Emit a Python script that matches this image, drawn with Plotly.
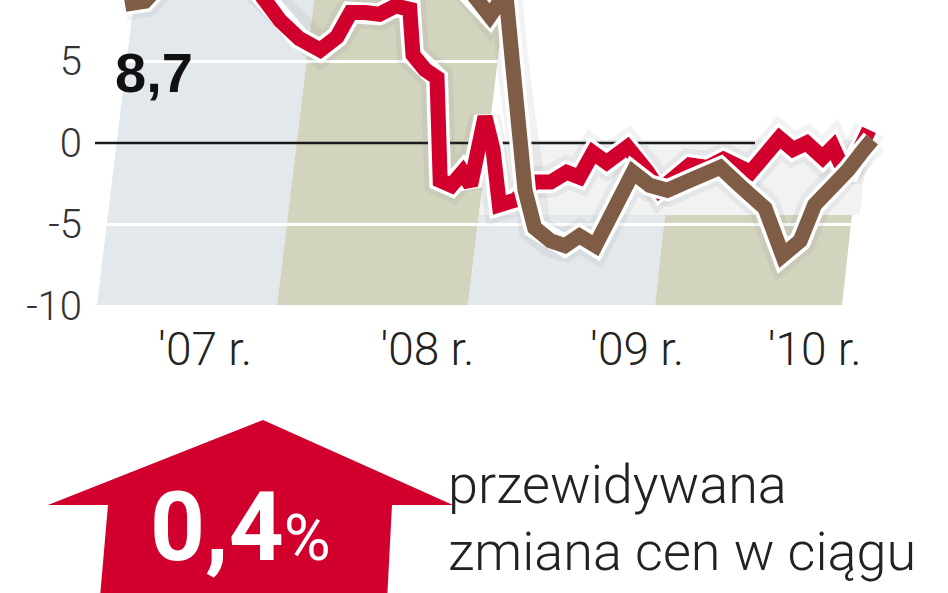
import plotly.graph_objects as go

# ---------------- data ----------------
# x: month index since the start of the series
red_x = [0, 2.2, 4.7, 6.9, 8.1, 8.75, 9.7, 10.9, 12.2, 13.25, 14.1, 15.0, 15.9, 16.9, 17.8,
         18.0, 18.75, 19.5, 19.7, 20.4, 21.1, 21.6, 22.5, 23.0, 23.4, 24.4, 25.6, 26.6,
         27.6, 28.4, 29.25, 30.1, 31.4, 32.6, 33.4, 35.3, 36.4, 37.4, 39.1, 40.9, 41.75,
         42.6, 43.6, 44.25, 45.1, 46.5]
red_y = [10.2, 11.0, 11.5, 10.8, 9.6, 8.8, 7.5, 6.4, 5.7, 6.5, 8.0, 8.0, 7.9, 8.4, 8.2,
         5.4, 4.5, 4.0, -2.3, -2.6, -1.8, -2.6, 1.6, -0.4, -3.8, -3.5, -2.4, -2.4,
         -1.8, -2.1, -0.6, -1.2, -0.25, -1.7, -2.9, -1.35, -1.5, -1.0, -1.8, 0.3, -0.4,
         0.0, -0.9, -0.25, -2.1, 0.8]

brown_x = [0, 1.25, 2.2, 4.7, 7.8, 10.9, 14.1, 17.2, 19.7, 21.6, 22.8, 23.8, 24.2, 24.6,
           25.0, 25.6, 26.6, 27.5, 28.4, 29.4, 30.6, 31.75, 32.8, 33.9, 35.3, 37.2, 38.4,
           40.0, 41.1, 42.2, 43.1, 44.1, 45.2, 46.1, 46.7]
brown_y = [8.5, 8.7, 9.7, 11.0, 12.5, 13.0, 14.0, 13.0, 11.0, 9.3, 7.8, 9.2, 5.1, 0.8,
           -2.9, -5.2, -6.0, -6.3, -5.7, -6.3, -4.0, -1.8, -2.6, -2.9, -2.3, -1.5, -2.6,
           -4.0, -6.9, -6.0, -3.8, -2.9, -1.65, -0.5, 0.2]

y_tickvals = [5, 0, -5, -10]
y_ticktext = ["5", "0", "-5", "-10"]
x_tickvals = [5.0, 18.9, 32.0, 43.1]
x_ticktext = ["'07 r.", "'08 r.", "'09 r.", "'10 r."]

label_value = "8,7"
forecast_value = "0,4"
forecast_text = ["przewidywana", "zmiana cen w ciągu"]

# ---------------- styling ----------------
W, H = 948, 593
L, R, T, B = 95, 48, 0, 283
PW, PH = W - L - R, H - T - B

RED = "#D2002D"
BROWN = "#7F5C46"
LIGHT = "#E2E8EB"
OLIVE = "#D3D4BE"


def px(x):
    return (x - L) / PW


def py(y):
    return (T + PH - y) / PH


def poly(points):
    return "M " + " L ".join(f"{px(a):.5f},{py(b):.5f}" for a, b in points) + " Z"


fig = go.Figure()

for xs, ys, col in [(red_x, red_y, RED), (brown_x, brown_y, BROWN)]:
    fig.add_trace(go.Scatter(x=xs, y=ys, mode="lines", hoverinfo="skip",
                             line=dict(color="rgba(120,130,135,0.10)", width=32)))
for xs, ys, col in [(red_x, red_y, RED), (brown_x, brown_y, BROWN)]:
    fig.add_trace(go.Scatter(x=xs, y=ys, mode="lines", hoverinfo="skip",
                             line=dict(color="white", width=22)))
    fig.add_trace(go.Scatter(x=xs, y=ys, mode="lines", hoverinfo="skip",
                             line=dict(color=col, width=15)))

shapes = []
# background panels (perspective columns)
shapes.append(dict(type="path", path=poly([(97, 305), (277, 305), (314, 0), (134, 0)]),
                   xref="paper", yref="paper", fillcolor=LIGHT, line_width=0, layer="below"))
shapes.append(dict(type="path", path=poly([(277, 305), (468, 305), (505, 0), (314, 0)]),
                   xref="paper", yref="paper", fillcolor=OLIVE, line_width=0, layer="below"))
shapes.append(dict(type="path", path=poly([(479, 215), (860, 215), (868, 140), (489, 140)]),
                   xref="paper", yref="paper", fillcolor="#F1F2F2", line_width=0, layer="below"))
shapes.append(dict(type="path", path=poly([(468, 305), (655, 305), (665, 215), (479, 215)]),
                   xref="paper", yref="paper", fillcolor=LIGHT, line_width=0, layer="below"))
shapes.append(dict(type="path", path=poly([(655, 305), (842, 305), (852, 215), (665, 215)]),
                   xref="paper", yref="paper", fillcolor=OLIVE, line_width=0, layer="below"))
# white grid lines
shapes.append(dict(type="line", xref="paper", yref="y", x0=px(120), x1=px(500), y0=5, y1=5,
                   line=dict(color="white", width=3), layer="below"))
shapes.append(dict(type="line", xref="paper", yref="y", x0=px(105), x1=px(852), y0=-5, y1=-5,
                   line=dict(color="white", width=3), layer="below"))
# zero line
shapes.append(dict(type="line", xref="paper", yref="y", x0=px(95), x1=px(755), y0=0, y1=0,
                   line=dict(color="#1a1a1a", width=2.5), layer="below"))
# red arrow
shapes.append(dict(type="path", xref="paper", yref="paper",
                   path=poly([(263, 420), (453, 505), (392, 505), (386, 620), (98, 620),
                              (108, 505), (48, 505)]),
                   fillcolor=RED, line_width=0, layer="above"))

annotations = [
    dict(text=label_value, xref="paper", yref="paper", x=px(113), y=py(72), xanchor="left",
         yanchor="middle", showarrow=False,
         font=dict(family="Liberation Sans, Arial", size=56, color="#111", weight="bold")),
    dict(text=forecast_value
         + "<span style='font-size:64px;font-weight:400'>%</span>",
         xref="paper", yref="paper", x=px(240), y=py(527), xanchor="center",
         yanchor="middle", showarrow=False,
         font=dict(family="Roboto, Liberation Sans", size=96, color="white", weight="bold")),
    dict(text=forecast_text[0], xref="paper", yref="paper", x=px(446), y=py(484),
         xanchor="left", yanchor="middle", showarrow=False,
         font=dict(family="Roboto", size=54, color="#222", weight=300)),
    dict(text=forecast_text[1], xref="paper", yref="paper", x=px(446), y=py(551),
         xanchor="left", yanchor="middle", showarrow=False,
         font=dict(family="Roboto", size=54, color="#222", weight=300)),
]

fig.update_layout(
    width=W, height=H, margin=dict(l=L, r=R, t=T, b=B),
    paper_bgcolor="white", plot_bgcolor="white", showlegend=False,
    shapes=shapes, annotations=annotations,
    xaxis=dict(range=[(L - 125) / 16, (L + PW - 125) / 16], showgrid=False, zeroline=False,
               showline=False, ticks="", tickvals=x_tickvals, ticktext=x_ticktext,
               ticklabelstandoff=8,
               tickfont=dict(family="Roboto", size=46, color="#222", weight=300)),
    yaxis=dict(range=[-10.25, 8.77], showgrid=False, zeroline=False, showline=False,
               ticks="", tickvals=y_tickvals, ticktext=y_ticktext, ticklabelstandoff=12,
               tickfont=dict(family="Roboto", size=40, color="#333", weight=300)),
)

fig.write_html("out.html", config={"displayModeBar": False},
               post_script="document.body.style.margin='0';document.body.style.padding='0';"
                           "document.body.style.overflow='hidden';")
